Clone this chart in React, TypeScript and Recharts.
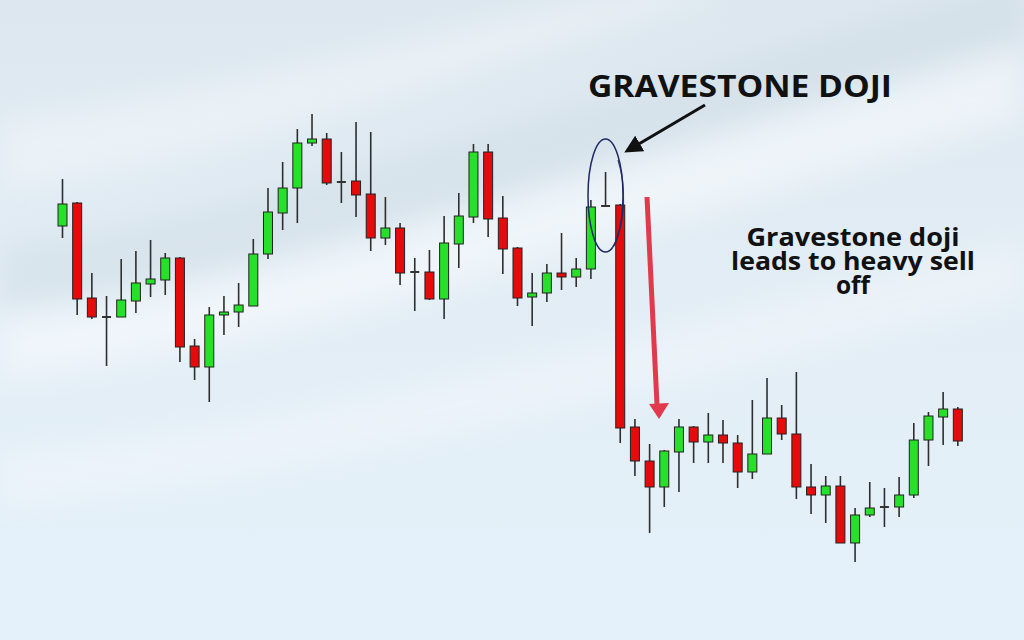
import React from "react";
import { ComposedChart, Bar, XAxis, YAxis } from "recharts";

// Session labels (categories)
const sessions = [
  "S1","S2","S3","S4","S5","S6","S7","S8","S9","S10",
  "S11","S12","S13","S14","S15","S16","S17","S18","S19","S20",
  "S21","S22","S23","S24","S25","S26","S27","S28","S29","S30",
  "S31","S32","S33","S34","S35","S36","S37","S38","S39","S40",
  "S41","S42","S43","S44","S45","S46","S47","S48","S49","S50",
  "S51","S52","S53","S54","S55","S56","S57","S58","S59","S60",
  "S61","S62",
];

const opens = [
  414, 437, 342, 323, 323, 339, 356, 360, 382, 294,
  273, 325, 328, 334, 386, 427, 452, 497, 501, 458,
  459, 446, 402, 412, 368, 368, 341, 396, 423, 488,
  422, 392, 343, 347, 367, 363, 371, 434, 435, 213,
  179, 153, 188, 213, 198, 205, 197, 168, 186, 222,
  206, 153, 145, 154, 97, 125, 133, 133, 145, 200,
  223, 231,
];

const highs = [
  461, 438, 367, 344, 381, 389, 400, 387, 383, 301,
  333, 344, 357, 401, 452, 478, 511, 526, 507, 488,
  518, 508, 443, 417, 382, 390, 424, 447, 496, 496,
  444, 393, 367, 376, 407, 382, 440, 468, 436, 221,
  196, 190, 221, 214, 227, 220, 205, 240, 262, 235,
  268, 176, 164, 164, 132, 158, 152, 163, 217, 228,
  248, 233,
];

const lows = [
  402, 325, 321, 274, 323, 327, 343, 345, 278, 260,
  238, 305, 313, 334, 381, 410, 417, 494, 455, 437,
  423, 389, 395, 355, 329, 340, 321, 372, 417, 403,
  366, 334, 314, 338, 350, 353, 361, 434, 197, 164,
  107, 133, 148, 177, 177, 177, 152, 161, 186, 200,
  141, 126, 117, 97, 78, 123, 113, 123, 142, 174,
  195, 194,
];

const closes = [
  436, 341, 323, 323, 340, 357, 361, 382, 293, 273,
  325, 328, 335, 386, 428, 452, 497, 501, 457, 458,
  445, 402, 412, 367, 368, 341, 397, 424, 488, 421,
  391, 342, 347, 367, 363, 371, 433, 434, 212, 179,
  153, 189, 213, 198, 205, 197, 168, 186, 222, 206,
  153, 145, 154, 97, 125, 132, 133, 145, 200, 224,
  231, 199,
];

const titleText = "GRAVESTONE DOJI";
const noteLines = ["Gravestone doji", "leads to heavy sell", "off"];
const noteWidths = [213, 244, 0];

const data = sessions.map((s, i) => ({
  session: s,
  open: opens[i],
  high: highs[i],
  low: lows[i],
  close: closes[i],
}));

const GREEN = "#27e02a";
const RED = "#e50b0b";
const OUTLINE = "#222";
const WICK = "#2e2e2e";

const Candle = (props: any) => {
  const { x, y, width, height, payload } = props;
  if (x == null || y == null || !payload) return null;
  const { open, close, high, low } = payload;
  const top = Math.min(y, y + height);
  const h = Math.abs(height);
  const range = high - low || 1;
  const ppu = h / range;
  const cx = x + width / 2;
  const bodyTop = top + (high - Math.max(open, close)) * ppu;
  const bodyBot = top + (high - Math.min(open, close)) * ppu;
  const isDoji = open === close;
  const fill = close > open ? GREEN : RED;
  return (
    <g>
      <line x1={cx} x2={cx} y1={top} y2={top + h} stroke={WICK} strokeWidth={1.6} />
      {isDoji ? (
        <line x1={x} x2={x + width} y1={bodyTop} y2={bodyTop} stroke="#333" strokeWidth={2} />
      ) : (
        <rect
          x={x}
          y={bodyTop}
          width={width}
          height={Math.max(bodyBot - bodyTop, 1)}
          fill={fill}
          stroke={OUTLINE}
          strokeWidth={1}
        />
      )}
    </g>
  );
};

const Background = () => (
  <svg width={1024} height={640} style={{ position: "absolute", left: 0, top: 0 }}>
    <defs>
      <linearGradient id="bg" x1="0" y1="0" x2="0" y2="1">
        <stop offset="0%" stopColor="#dce7ef" />
        <stop offset="45%" stopColor="#e2edf5" />
        <stop offset="100%" stopColor="#e5f1fa" />
      </linearGradient>
      <filter id="soft" x="-20%" y="-20%" width="140%" height="140%">
        <feGaussianBlur stdDeviation="14" />
      </filter>
    </defs>
    <rect x={0} y={0} width={1024} height={640} fill="url(#bg)" />
    <path
      d="M0,245 C250,215 520,110 1024,-20 L1024,40 C560,170 280,280 0,310 Z"
      fill="#c9d6df"
      opacity={0.35}
      filter="url(#soft)"
    />
    <path
      d="M0,320 C260,290 520,190 1024,50 L1024,120 C600,240 300,350 0,380 Z"
      fill="#ffffff"
      opacity={0.45}
      filter="url(#soft)"
    />
    <path
      d="M0,120 C200,95 420,35 640,-10 L740,-10 C480,60 250,160 0,190 Z"
      fill="#ffffff"
      opacity={0.35}
      filter="url(#soft)"
    />
    <path
      d="M0,455 C300,430 650,330 1024,240 L1024,300 C650,390 300,480 0,505 Z"
      fill="#ffffff"
      opacity={0.3}
      filter="url(#soft)"
    />
  </svg>
);

const Annotations = () => (
  <svg
    width={1024}
    height={640}
    style={{ position: "absolute", left: 0, top: 0, pointerEvents: "none" }}
  >
    <defs>
      <marker id="blackHead" markerWidth="6" markerHeight="6" refX="3" refY="3" orient="auto" markerUnits="strokeWidth">
        <path d="M0,0 L6,3 L0,6 Z" fill="#111" />
      </marker>
    </defs>
    <text
      x={740}
      y={97}
      textAnchor="middle"
      fontFamily="'Open Sans', sans-serif"
      fontWeight={700}
      fontSize={30}
      fill="#111"
      textLength={304}
      lengthAdjust="spacingAndGlyphs"
    >
      {titleText}
    </text>
    <line x1={705} y1={105} x2={632} y2={148} stroke="#111" strokeWidth={3} markerEnd="url(#blackHead)" />
    <ellipse cx={605.5} cy={195.5} rx={17.5} ry={56.5} fill="none" stroke="#1e2a66" strokeWidth={1.5} />
    <path d="M618,160 C626,185 626,220 614,246" fill="none" stroke="#1e2a66" strokeWidth={1.2} opacity={0.85} />
    <line x1={647} y1={197} x2={657} y2={405} stroke="#e03a4c" strokeWidth={5} />
    <path d="M649,404 L669,403 L659,419 Z" fill="#e03a4c" />
    <text
      x={853}
      y={246}
      textAnchor="middle"
      fontFamily="'Open Sans', sans-serif"
      fontWeight={700}
      fontSize={24.5}
      fill="#111"
    >
      {noteLines.map((t, i) => (
        <tspan
          key={t}
          x={853}
          dy={i === 0 ? 0 : 24}
          {...(noteWidths[i] ? { textLength: noteWidths[i], lengthAdjust: "spacingAndGlyphs" } : {})}
        >
          {t}
        </tspan>
      ))}
    </text>
  </svg>
);

export default function App() {
  return (
    <div style={{ position: "fixed", left: 0, top: 0, width: 1024, height: 640, overflow: "hidden" }}>
      <Background />
      <div style={{ position: "absolute", left: 0, top: 0 }}>
        <ComposedChart
          width={1024}
          height={640}
          data={data}
          margin={{ top: 0, right: 59, bottom: 0, left: 55 }}
        >
          <XAxis dataKey="session" hide />
          <YAxis type="number" domain={[0, 640]} hide allowDataOverflow />
          <Bar
            dataKey={(d: any) => [d.low, d.high]}
            barSize={9}
            shape={<Candle />}
            isAnimationActive={false}
          />
        </ComposedChart>
      </div>
      <Annotations />
    </div>
  );
}
